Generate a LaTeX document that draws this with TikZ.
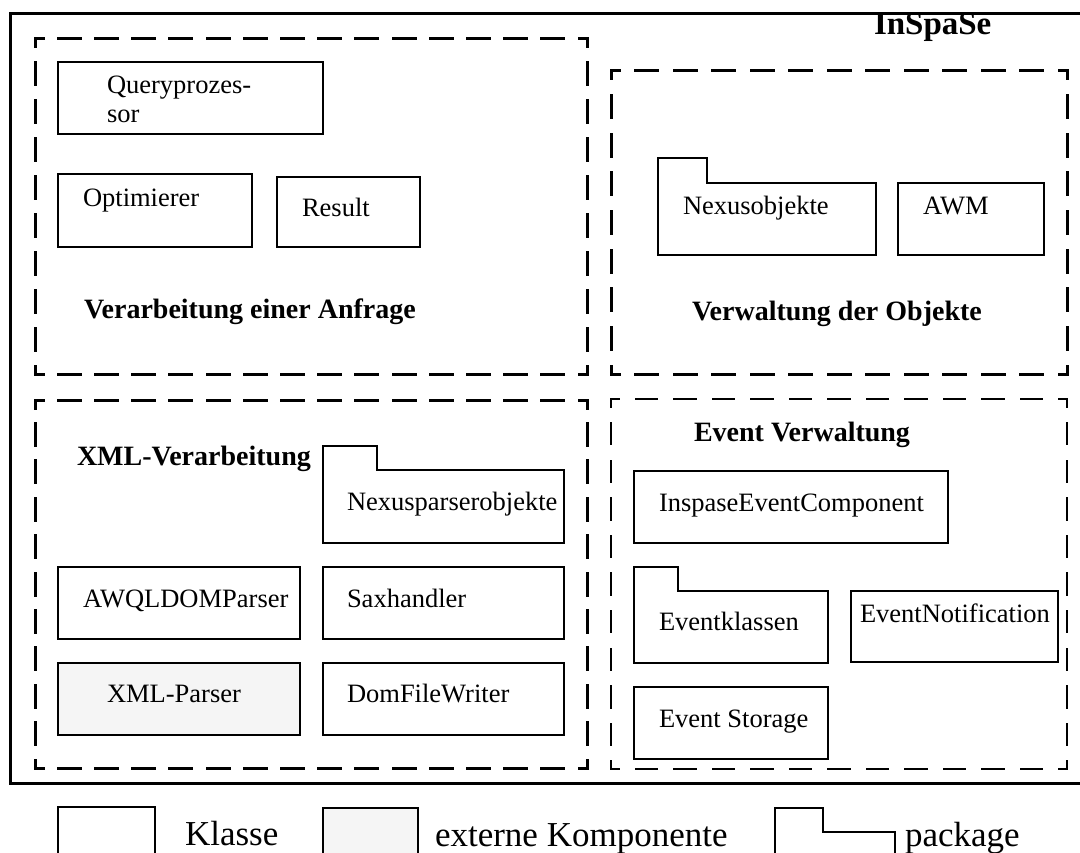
\documentclass[tikz,border=0pt]{standalone}
\usepackage{fontspec}
\setmainfont{Liberation Serif}
\usetikzlibrary{calc}
\definecolor{extgrey}{HTML}{F5F5F5}
\tikzset{
  frame/.style={inner sep=0pt, outer sep=0pt, anchor=north west},
  cls/.style={frame, draw, line width=1.4pt},
  clsthick/.style={cls, line width=2.8pt},
  pkgbody/.style={frame},
  pkgline/.style={line width=2.8pt},
  grp/.style={line width=3pt, line cap=rect},
  grpthin/.style={grp, line width=1.4pt},
  lbl/.style={anchor=base west, inner sep=0pt, outer sep=0pt, font=\fontsize{26.5}{29}\selectfont},
  head/.style={lbl, font=\fontsize{28}{32}\selectfont\bfseries},
  title/.style={lbl, font=\fontsize{33}{36}\selectfont\bfseries},
  leg/.style={lbl, font=\fontsize{35}{40}\selectfont},
  legbox/.style={frame, draw, line width=2pt},
}
% dashed group frame: every side starts and ends with a short stub at
% its corners; the gap is stretched so that a whole number of dashes fits.
% #1 style, #2 frame node, #3 width, #4 height
\newcommand\grpframe[4]{%
  \pgfmathsetmacro\grpoffw{(#3+6)/round((#3+6)/38)-22}%
  \pgfmathsetmacro\grpoffh{(#4+6)/round((#4+6)/38)-22}%
  \draw[#1, dash pattern=on 22pt off \grpoffw pt, dash phase=14pt]
    (#2.north west) -- (#2.north east);
  \draw[#1, dash pattern=on 22pt off \grpoffw pt, dash phase=14pt]
    (#2.south west) -- (#2.south east);
  \draw[#1, dash pattern=on 22pt off \grpoffh pt, dash phase=14pt]
    (#2.north west) -- (#2.south west);
  \draw[#1, dash pattern=on 22pt off \grpoffh pt, dash phase=14pt]
    (#2.north east) -- (#2.south east);
}
% package outline: body node plus tab of width #3 and height #4
\newcommand\pkgoutline[4]{%
  \draw[#1] (#2.south west) -- ($(#2.north west)+(0,-#4)$) -| ($(#2.north west)+(#3,0)$)
    -- (#2.north east) -- (#2.south east) -- cycle;
}
\begin{document}
\begin{tikzpicture}[x=1pt, y=-1pt]
\useasboundingbox (0,0) rectangle (1080,853);
\clip (0,0) rectangle (1080,853);

% system frame
\node[frame, draw, line width=3pt, minimum width=1100pt, minimum height=769pt] (sys) at (10,14) {};
\node[title] (systitle) at (874,35) {InSpaSe};

% groups
\node[frame, minimum width=552pt, minimum height=335pt] (g1) at (35,39) {};
\node[frame, minimum width=456pt, minimum height=303pt] (g2) at (611,71) {};
\node[frame, minimum width=552pt, minimum height=368pt] (g3) at (35,400) {};
\node[frame, minimum width=456pt, minimum height=370pt] (g4) at (611,399) {};
\grpframe{grp}{g1}{552}{335}
\grpframe{grp}{g2}{456}{303}
\grpframe{grp}{g3}{552}{368}
\grpframe{grpthin}{g4}{456}{370}

% Verarbeitung einer Anfrage
\node[cls, minimum width=265pt, minimum height=72pt] (qp) at (58,62) {};
\node[lbl] (qpa) at (107,94) {Queryprozes-};
\node[lbl] (qpb) at (107,123) {sor};
\node[clsthick, minimum width=194pt, minimum height=73pt] (opt) at (58,174) {};
\node[lbl] (optl) at (83,207) {Optimierer};
\node[cls, minimum width=143pt, minimum height=70pt] (res) at (277,177) {};
\node[lbl] (resl) at (302,217) {Result};
\node[head] (g1l) at (84,319) {Verarbeitung einer Anfrage};

% Verwaltung der Objekte
\node[pkgbody, minimum width=218pt, minimum height=72pt] (nexobj) at (658,183) {};
\pkgoutline{pkgline}{nexobj}{49}{25}
\node[lbl] (nexobjl) at (683,215) {Nexusobjekte};
\node[clsthick, minimum width=146pt, minimum height=72pt] (awm) at (898,183) {};
\node[lbl] (awml) at (923,215) {AWM};
\node[head] (g2l) at (692,320) {Verwaltung der Objekte};

% XML-Verarbeitung
\node[head] (g3l) at (77,465) {XML-Verarbeitung};
\node[pkgbody, minimum width=241pt, minimum height=73pt] (nexpar) at (323,470) {};
\pkgoutline{pkgline}{nexpar}{54}{24}
\node[lbl] (nexparl) at (347,510) {Nexusparserobjekte};
\node[clsthick, minimum width=242pt, minimum height=72pt] (awql) at (58,567) {};
\node[lbl] (awqll) at (83,607) {AWQLDOMParser};
\node[clsthick, minimum width=241pt, minimum height=72pt] (sax) at (323,567) {};
\node[lbl] (saxl) at (347,607) {Saxhandler};
\node[clsthick, fill=extgrey, minimum width=242pt, minimum height=72pt] (xmlp) at (58,663) {};
\node[lbl] (xmlpl) at (107,702) {XML-Parser};
\node[clsthick, minimum width=241pt, minimum height=72pt] (dfw) at (323,663) {};
\node[lbl] (dfwl) at (347,702) {DomFileWriter};

% Event Verwaltung
\node[head] (g4l) at (694,441) {Event Verwaltung};
\node[clsthick, minimum width=314pt, minimum height=72pt] (iec) at (634,471) {};
\node[lbl] (iecl) at (659,511) {InspaseEventComponent};
\node[pkgbody, minimum width=194pt, minimum height=72pt] (evk) at (634,591) {};
\pkgoutline{pkgline}{evk}{44}{24}
\node[lbl] (evkl) at (659,630) {Eventklassen};
\node[cls, minimum width=207pt, minimum height=71pt] (evn) at (851,591) {};
\node[lbl] (evnl) at (860,622) {EventNotification};
\node[cls, minimum width=194pt, minimum height=72pt] (evs) at (634,687) {};
\node[lbl] (evsl) at (659,727) {Event Storage};

% legend
\node[legbox, minimum width=97pt, minimum height=70pt] (legk) at (58,807) {};
\node[leg] (legkl) at (185,845) {Klasse};
\node[legbox, fill=extgrey, minimum width=95pt, minimum height=70pt] (lege) at (323,808) {};
\node[leg] (legel) at (435,846) {externe Komponente};
\node[pkgbody, minimum width=120pt, minimum height=45pt] (legp) at (775,832) {};
\pkgoutline{line width=2pt}{legp}{48}{24}
\node[leg] (legpl) at (905,846) {package};
\end{tikzpicture}
\end{document}
